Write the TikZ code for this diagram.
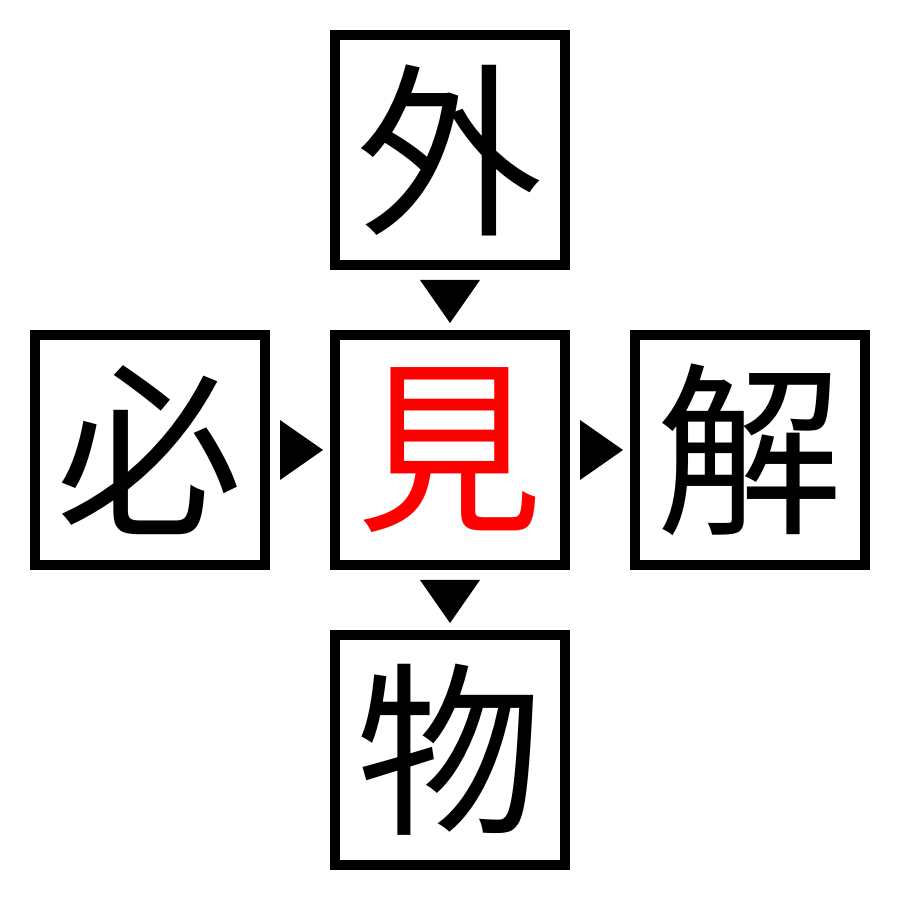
\documentclass[tikz,border=0pt]{standalone}
\usepackage{fontspec}
\newfontfamily\jpfont{Noto Sans CJK JP}
\usetikzlibrary{calc}

\begin{document}
\begin{tikzpicture}
\tikzset{kanji/.style={draw=black,line width=0.1cm,minimum size=2.3cm,inner sep=0pt,font=\jpfont\fontsize{53}{53}\selectfont},
mark down/.style={fill=black},
mark right/.style={fill=black}}
\useasboundingbox (0,0) rectangle (9,9);
\node[kanji] (top) at (4.5,7.5) {外};
\node[kanji] (left) at (1.5,4.5) {必};
\node[kanji,text=red] (mid) at (4.5,4.5) {見};
\node[kanji] (right) at (7.5,4.5) {解};
\node[kanji] (bottom) at (4.5,1.5) {物};
\coordinate (a1) at ($(top.south)!0.5!(mid.north)$);
\coordinate (a2) at ($(left.east)!0.5!(mid.west)$);
\coordinate (a3) at ($(mid.east)!0.5!(right.west)$);
\coordinate (a4) at ($(mid.south)!0.5!(bottom.north)$);
\fill [mark down] ($(a1)+(-0.3,0.2)$) -- ($(a1)+(0.3,0.2)$) -- ($(a1)+(0,-0.23)$) -- cycle;
\fill [mark right] ($(a2)+(-0.2,0.3)$) -- ($(a2)+(-0.2,-0.3)$) -- ($(a2)+(0.23,0)$) -- cycle;
\fill [mark right] ($(a3)+(-0.2,0.3)$) -- ($(a3)+(-0.2,-0.3)$) -- ($(a3)+(0.23,0)$) -- cycle;
\fill [mark down] ($(a4)+(-0.3,0.2)$) -- ($(a4)+(0.3,0.2)$) -- ($(a4)+(0,-0.23)$) -- cycle;
\end{tikzpicture}
\end{document}
